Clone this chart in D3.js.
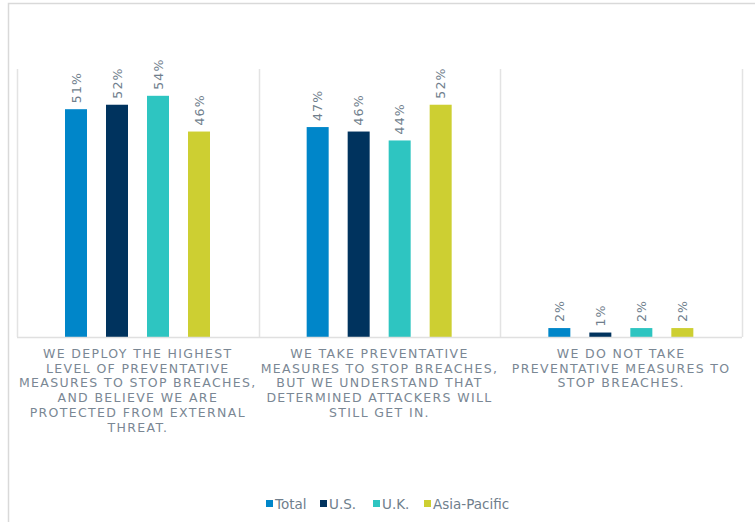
<!DOCTYPE html>
<html>
<head>
<meta charset="utf-8">
<script src="https://cdn.jsdelivr.net/npm/d3@7"></script>
<style>
  body { margin: 0; background: #fff; }
  text { font-family: "DejaVu Sans", Verdana, sans-serif; }
</style>
</head>
<body>
<div id="chart"></div>
<script>
// chart size
var svgWidth = 755;
var svgHeight = 522;

var margin = { top: 69, left: 17, right: 13, baseline: 337 };

// data
var categories = [
  "WE DEPLOY THE HIGHEST|LEVEL OF PREVENTATIVE|MEASURES TO STOP BREACHES,|AND BELIEVE WE ARE|PROTECTED FROM EXTERNAL|THREAT.",
  "WE TAKE PREVENTATIVE|MEASURES TO STOP BREACHES,|BUT WE UNDERSTAND THAT|DETERMINED ATTACKERS WILL|STILL GET IN.",
  "WE DO NOT TAKE|PREVENTATIVE MEASURES TO|STOP BREACHES."
];
var seriesNames = ["Total", "U.S.", "U.K.", "Asia-Pacific"];
var seriesColors = ["#0086c9", "#00335e", "#2ec5c1", "#cdcf32"];
var totalValues = [51, 47, 2];
var usValues = [52, 46, 1];
var ukValues = [54, 44, 2];
var apacValues = [46, 52, 2];
var allValues = [totalValues, usValues, ukValues, apacValues];

var svg = d3.select("#chart")
  .append("svg")
  .attr("width", svgWidth)
  .attr("height", svgHeight);

// outer frame
svg.append("rect")
  .attr("x", 8.5).attr("y", 3.5)
  .attr("width", 760).attr("height", 530)
  .attr("fill", "none")
  .attr("stroke", "#d9d9d9")
  .attr("stroke-width", 1.5);

// scales
var x0 = d3.scaleBand()
  .domain(d3.range(categories.length))
  .range([margin.left, svgWidth - margin.right])
  .paddingInner(0).paddingOuter(0);

var x1 = d3.scaleBand()
  .domain(d3.range(seriesNames.length))
  .range([38.5, 202.5])
  .paddingInner(19 / 41)
  .paddingOuter(9.5 / 41);

var y = d3.scaleLinear()
  .domain([0, 60])
  .range([margin.baseline, margin.top]);

// dividers
var edges = x0.domain().map(d => x0(d)).concat([x0.range()[1]]);
svg.selectAll("line.divider")
  .data(edges)
  .enter()
  .append("line")
  .attr("x1", d => Math.round(d) + 0.5)
  .attr("x2", d => Math.round(d) + 0.5)
  .attr("y1", margin.top)
  .attr("y2", margin.baseline)
  .attr("stroke", "#e3e3e3")
  .attr("stroke-width", 1.5);

// bars
var groups = svg.selectAll("g.group")
  .data(categories)
  .enter()
  .append("g")
  .attr("transform", (d, i) => `translate(${x0(i)},0)`);

groups.each(function(c, ci) {
  var g = d3.select(this);
  allValues.forEach((vals, si) => {
    var v = vals[ci];
    var bx = x1(si);
    g.append("rect")
      .attr("x", bx)
      .attr("y", y(v))
      .attr("width", x1.bandwidth())
      .attr("height", y(0) - y(v))
      .attr("fill", seriesColors[si]);
    g.append("text")
      .attr("transform", `translate(${bx + x1.bandwidth() / 2 + 4.5},${y(v) - 6}) rotate(-90)`)
      .attr("font-size", 12.5)
      .attr("fill", "#6f7e8c")
      .attr("letter-spacing", 1.2)
      .text(v + "%");
  });

  // category label
  var lines = c.split("|");
  var t = g.append("text")
    .attr("text-anchor", "middle")
    .attr("font-size", 12.5)
    .attr("fill", "#7a8794")
    .attr("letter-spacing", 1.35);
  lines.forEach((ln, li) => {
    t.append("tspan")
      .attr("x", x0.bandwidth() / 2)
      .attr("y", 358 + li * 14.7)
      .text(ln);
  });
});

// baseline
svg.append("line")
  .attr("x1", margin.left)
  .attr("x2", svgWidth - margin.right)
  .attr("y1", margin.baseline + 0.5)
  .attr("y2", margin.baseline + 0.5)
  .attr("stroke", "#e0e0e0")
  .attr("stroke-width", 1.5);

// legend
var legendX = [266, 320, 373, 424];
var legend = svg.selectAll("g.legend")
  .data(seriesNames)
  .enter()
  .append("g")
  .attr("transform", (d, i) => `translate(${legendX[i]},500)`);

legend.append("rect")
  .attr("x", 0).attr("y", 0)
  .attr("width", 7).attr("height", 7)
  .attr("fill", (d, i) => seriesColors[i]);

legend.append("text")
  .attr("x", 9)
  .attr("y", 9)
  .attr("font-size", 13.5)
  .attr("fill", "#6f7e8c")
  .text(d => d);
</script>
</body>
</html>
